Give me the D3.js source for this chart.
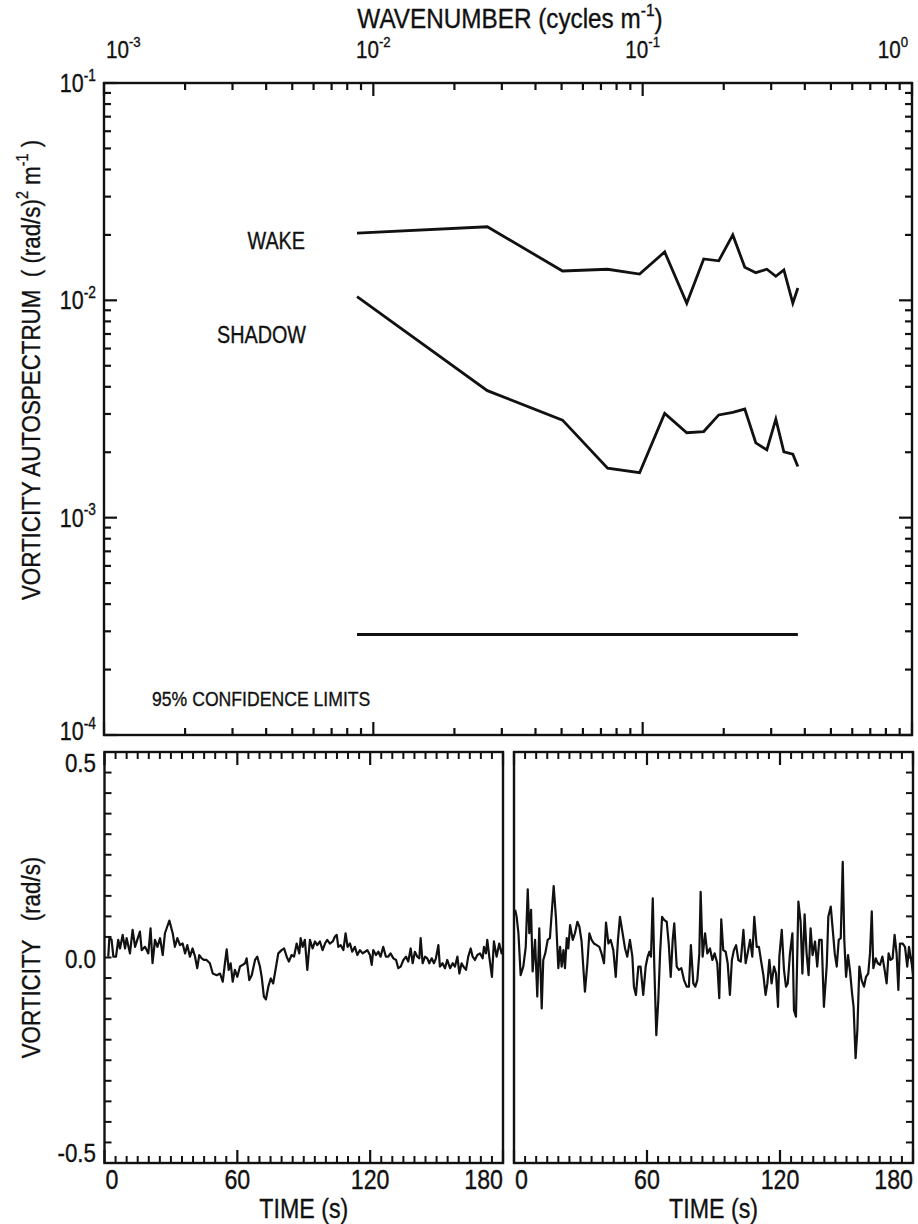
<!DOCTYPE html>
<html>
<head>
<meta charset="utf-8">
<script src="https://cdn.jsdelivr.net/npm/d3@7"></script>
<style>
  body { margin: 0; background: #fff; }
  svg { display: block; }
  text { font-family: "Liberation Sans", Arial, Helvetica, sans-serif; fill: #111;
         stroke: #111; stroke-width: 0.35; white-space: pre; }
</style>
</head>
<body>
<svg id="fig" width="918" height="1224"></svg>
<script>
// ---- Spectra (wavenumber in cycles/m, autospectrum in (rad/s)^2 m) ----
const wavenumber = [0.0087, 0.0265, 0.0504, 0.0741, 0.0974, 0.1207, 0.1458, 0.1685, 0.1916,
                    0.2161, 0.2394, 0.2631, 0.2891, 0.3122, 0.3344, 0.3610, 0.3769];
const wakeSpectrum = [0.0204, 0.0218, 0.01365, 0.0139, 0.0132, 0.0167, 0.0097, 0.0155, 0.0152,
                      0.0200, 0.0142, 0.0134, 0.0139, 0.0129, 0.0138, 0.0097, 0.0114];
const shadowSpectrum = [0.0104, 0.00384, 0.00281, 0.00169, 0.00161, 0.00302, 0.00246, 0.00249, 0.00297,
                        0.00305, 0.00316, 0.00221, 0.00205, 0.00284, 0.00201, 0.00196, 0.00172];
const confidenceLevel = 2.9e-4;

const wavenumberTicks = [1e-3, 1e-2, 1e-1, 1];
const wavenumberTickExp = ["-3", "-2", "-1", "0"];
const spectrumTicks = [1e-1, 1e-2, 1e-3, 1e-4];
const spectrumTickExp = ["-1", "-2", "-3", "-4"];

// ---- Vorticity records: [time (s), vorticity (rad/s)] ----
const leftRecord = [
  [1.7,0.002],[2.2,0.049],[3.2,0.043],[4.0,0.002],[5.2,0.002],[6.2,0.043],[7.0,0.022],[8.2,0.055],[9.3,0.022],[10.0,0.047],
  [11.5,0.010],[12.7,0.067],[13.8,0.026],[14.8,0.043],[16.0,0.063],[16.8,0.018],[18.3,0.026],[19.8,0.010],[20.8,0.071],[21.7,-0.014],
  [22.8,0.043],[23.9,0.026],[25.1,0.047],[26.3,0.006],[27.3,0.059],[29.3,0.090],[30.8,0.059],[31.8,0.026],[32.9,0.047],[34.1,0.030],
  [35.3,0.034],[36.4,0.010],[37.4,0.030],[38.6,0.002],[39.8,0.022],[40.9,0.002],[41.9,-0.026],[42.8,0.006],[43.9,-0.002],[44.9,-0.006],
  [46.1,-0.006],[47.6,-0.014],[48.9,-0.039],[50.7,-0.043],[52.2,-0.039],[53.4,-0.059],[54.4,-0.014],[55.2,0.020],[56.1,-0.030],[57.0,-0.014],
  [57.9,-0.059],[58.9,-0.030],[60.0,-0.047],[61.2,-0.022],[62.4,-0.018],[63.5,-0.014],[64.2,-0.002],[65.4,-0.055],[66.5,-0.043],[68.0,-0.006],
  [69.0,0.002],[70.2,-0.022],[71.0,-0.047],[72.0,-0.095],[72.9,-0.102],[74.0,-0.071],[75.1,-0.051],[76.2,-0.063],[77.5,-0.022],[78.5,0.010],
  [80.0,0.018],[81.1,0.022],[82.3,0.002],[83.3,-0.010],[84.5,0.006],[85.6,0.002],[86.8,0.034],[88.0,0.010],[88.6,0.047],[89.5,0.026],
  [90.5,0.043],[91.6,-0.030],[92.8,0.043],[94.0,0.022],[95.1,0.039],[96.1,0.030],[97.3,0.039],[98.5,0.018],[99.6,0.034],[100.6,0.043],
  [101.8,0.034],[103.1,0.039],[104.1,0.051],[104.9,0.055],[105.6,0.026],[106.7,0.030],[107.9,0.018],[108.9,0.059],[109.8,0.026],[110.9,0.034],
  [111.9,0.014],[113.1,0.026],[114.2,0.006],[115.4,0.018],[116.6,0.010],[117.7,0.014],[118.7,0.018],[119.9,0.006],[120.7,-0.018],[121.4,0.018],
  [122.6,0.006],[123.7,0.014],[124.7,0.002],[125.9,0.026],[127.1,0.002],[128.2,0.002],[129.2,0.010],[130.5,-0.002],[131.7,-0.006],[132.7,-0.026],
  [133.8,-0.022],[135.0,-0.006],[136.2,0.002],[137.2,-0.010],[138.3,0.022],[139.2,-0.014],[140.2,0.014],[141.3,0.002],[142.2,-0.002],[142.8,0.047],
  [143.7,-0.014],[144.8,0.002],[145.8,-0.002],[146.7,-0.014],[147.8,-0.002],[148.8,-0.014],[149.7,-0.002],[150.8,0.030],[151.5,-0.022],[152.7,-0.014],
  [153.8,-0.026],[154.8,-0.006],[156.1,-0.026],[157.3,-0.014],[158.3,-0.022],[159.4,0.002],[160.3,-0.039],[161.3,-0.014],[162.1,-0.022],[163.3,-0.030],
  [164.3,0.002],[165.4,0.022],[166.3,0.002],[167.3,-0.006],[168.4,0.006],[169.6,0.010],[170.8,-0.002],[171.4,0.026],[172.3,0.010],[172.9,0.043],
  [173.8,0.002],[175.0,-0.047],[175.9,0.039],[177.1,0.002],[178.3,0.034],[179.4,0.010],[180.0,0.022]
];
const rightRecord = [
  [0.5,0.116],[1.2,0.099],[2.0,0.059],[3.0,-0.043],[4.2,-0.022],[5.3,0.026],[6.2,0.166],[6.9,0.059],[7.7,0.116],[8.4,-0.034],
  [9.5,0.043],[10.5,-0.095],[11.4,0.071],[12.5,-0.124],[13.2,-0.006],[14.1,0.010],[15.2,0.043],[16.2,0.047],[17.0,0.107],[17.9,0.174],
  [18.9,0.099],[20.0,-0.026],[20.8,0.026],[21.5,-0.022],[22.3,0.018],[23.0,-0.026],[23.8,0.047],[24.5,0.022],[25.3,0.079],[26.5,0.043],
  [27.5,0.059],[28.6,0.087],[29.5,0.075],[30.5,0.039],[32.0,-0.083],[33.1,-0.014],[34.0,0.059],[35.0,0.043],[36.1,0.034],[37.3,0.030],
  [38.5,0.026],[39.5,0.010],[40.6,-0.014],[41.5,0.085],[42.6,0.034],[43.6,0.043],[44.8,0.018],[45.9,-0.047],[46.9,0.043],[47.8,0.099],
  [49.0,0.059],[50.1,0.022],[51.1,0.002],[52.3,0.043],[53.4,0.002],[54.1,-0.071],[55.0,-0.091],[56.1,-0.022],[57.1,-0.022],[58.3,-0.091],
  [59.4,-0.022],[60.3,0.002],[61.1,0.014],[61.8,0.002],[62.6,0.144],[63.3,-0.022],[64.2,-0.189],[65.1,-0.103],[65.9,0.010],[66.8,0.099],
  [67.8,0.091],[68.9,0.087],[69.8,0.034],[70.7,-0.047],[71.6,0.043],[72.3,0.083],[73.4,-0.022],[74.4,-0.030],[75.5,-0.026],[76.7,-0.055],
  [77.9,-0.071],[78.9,-0.071],[79.8,0.030],[80.9,-0.063],[81.8,-0.071],[82.7,-0.055],[83.6,0.010],[84.2,0.160],[85.1,0.002],[86.2,0.059],
  [87.2,0.010],[88.4,0.022],[89.5,-0.006],[90.5,0.010],[91.7,-0.014],[92.6,-0.099],[93.5,0.093],[94.4,0.018],[95.5,0.014],[96.4,-0.014],
  [97.4,-0.091],[98.3,-0.006],[99.2,0.018],[100.2,0.030],[101.2,-0.006],[102.3,-0.010],[103.5,0.067],[104.5,-0.014],[105.4,0.010],[106.5,0.043],
  [107.5,0.002],[108.4,0.099],[109.5,0.026],[110.5,0.026],[111.4,-0.006],[112.5,-0.043],[113.5,-0.091],[114.3,-0.063],[115.2,-0.006],[116.2,-0.063],
  [117.3,-0.022],[118.2,-0.039],[119.1,-0.120],[119.7,0.002],[120.8,0.067],[121.8,-0.030],[122.7,-0.071],[123.5,-0.063],[124.5,0.010],[125.6,0.059],
  [126.3,-0.128],[127.2,-0.144],[128.3,0.136],[129.3,0.087],[130.1,-0.039],[131.1,0.105],[132.0,0.010],[132.9,-0.043],[133.8,0.071],[134.7,0.006],
  [135.8,0.039],[136.8,-0.022],[137.7,0.043],[138.8,0.043],[139.8,-0.120],[141.1,-0.018],[141.8,0.099],[142.9,0.124],[143.8,0.067],[144.7,0.010],
  [145.6,-0.022],[146.5,0.043],[147.4,0.047],[148.3,0.233],[149.0,0.043],[149.8,-0.047],[150.7,0.006],[151.6,-0.034],[152.5,-0.087],[153.2,-0.120],
  [154.1,-0.245],[154.9,-0.176],[155.8,-0.022],[156.8,-0.055],[157.9,-0.071],[158.8,-0.047],[159.8,-0.039],[160.6,0.010],[161.4,0.112],[162.1,-0.026],
  [163.2,-0.002],[164.1,-0.014],[165.1,-0.018],[166.2,0.002],[167.2,-0.030],[168.1,-0.063],[169.0,0.010],[169.9,-0.006],[170.8,-0.002],[171.7,0.055],
  [172.6,0.010],[173.4,-0.079],[174.1,0.034],[175.3,0.034],[176.4,0.026],[177.4,-0.022],[178.2,0.026],[179.4,-0.014],[180.5,-0.063]
];
const timeTicks = [0, 60, 120, 180];
const vorticityTicks = [0.5, 0, -0.5];
const vorticityTickLabels = ["0.5", "0.0", "-0.5"];

// ---- Layout ----
const svg = d3.select("#fig");
const INK = "#111";
const SX = 0.86;                 // horizontal compression for the narrow lettering
const specBox = { l: 104, r: 912, t: 83, b: 735 };
const recordBox = { t: 752, b: 1163 };
const panels = [
  { l: 104.5, r: 503, data: leftRecord, yTicks: "left" },
  { l: 514, r: 913, data: rightRecord, yTicks: "right" }
];

// Text with optional superscripts; parts = ["text", {sup: "-1"}, ...]
function label(x, y, parts, opts = {}) {
  const size = opts.size || 22;
  const g = svg.append("g")
    .attr("transform", `translate(${x},${y}) rotate(${opts.rotate || 0}) scale(${opts.sx || SX},1)`);
  const t = g.append("text").attr("text-anchor", opts.anchor || "start").attr("font-size", size);
  let shift = 0;
  parts.forEach(p => {
    if (typeof p === "string") {
      t.append("tspan").attr("dy", -shift).attr("font-size", size).text(p);
      shift = 0;
    } else {
      const up = size * 0.45;
      t.append("tspan").attr("dy", -up - shift).attr("font-size", size * 0.64).text(p.sup);
      shift = -up;
    }
  });
  return t;
}

// Inward-pointing tick marks along one edge of a frame.
// side: "top" | "bottom" (ticks along x), "left" | "right" (ticks along y)
function edgeTicks(scale, values, side, pos, len, width) {
  const horizontal = side === "top" || side === "bottom";
  const dir = (side === "top" || side === "left") ? 1 : -1;
  svg.append("g").selectAll("line").data(values).join("line")
    .attr("x1", d => horizontal ? scale(d) : pos)
    .attr("x2", d => horizontal ? scale(d) : pos + dir * len)
    .attr("y1", d => horizontal ? pos : scale(d))
    .attr("y2", d => horizontal ? pos + dir * len : scale(d))
    .attr("stroke", INK).attr("stroke-width", width || 2.2);
}

const isDecade = d => Math.abs(Math.log10(d) - Math.round(Math.log10(d))) < 1e-9;

// ================= Spectrum panel =================
const x = d3.scaleLog().domain([1e-3, 1]).range([specBox.l, specBox.r]);
const y = d3.scaleLog().domain([1e-4, 1e-1]).range([specBox.b, specBox.t]);

const xMinor = x.ticks().filter(d => !isDecade(d));
const yMinor = y.ticks().filter(d => !isDecade(d));

[["top", specBox.t], ["bottom", specBox.b]].forEach(([side, pos]) => {
  edgeTicks(x, xMinor, side, pos, 7);
  edgeTicks(x, wavenumberTicks, side, pos, 13);
});
[["left", specBox.l], ["right", specBox.r]].forEach(([side, pos]) => {
  edgeTicks(y, yMinor, side, pos, 7);
  edgeTicks(y, spectrumTicks, side, pos, 13);
});

svg.append("rect")
  .attr("x", specBox.l).attr("y", specBox.t)
  .attr("width", specBox.r - specBox.l).attr("height", specBox.b - specBox.t)
  .attr("fill", "none").attr("stroke", INK).attr("stroke-width", 2.4);

const specLine = d3.line().x(d => x(d[0])).y(d => y(d[1]));
[wakeSpectrum, shadowSpectrum].forEach(s => {
  svg.append("path")
    .datum(wavenumber.map((k, i) => [k, s[i]]))
    .attr("d", specLine)
    .attr("fill", "none").attr("stroke", INK).attr("stroke-width", 2.8)
    .attr("stroke-linejoin", "miter");
});
svg.append("path")
  .datum([[wavenumber[0], confidenceLevel], [wavenumber[wavenumber.length - 1], confidenceLevel]])
  .attr("d", specLine)
  .attr("fill", "none").attr("stroke", INK).attr("stroke-width", 2.8);

// Spectrum panel text
wavenumberTicks.forEach((d, i) => {
  const anchor = i === 0 ? "start" : (i === wavenumberTicks.length - 1 ? "end" : "middle");
  const xx = i === 0 ? x(d) + 2 : (i === wavenumberTicks.length - 1 ? x(d) - 4 : x(d));
  label(xx, 58, ["10", { sup: wavenumberTickExp[i] }], { anchor, size: 24 });
});
spectrumTicks.forEach((d, i) => {
  const yy = i === spectrumTicks.length - 1 ? y(d) + 5 : y(d) + 9;
  label(96, yy, ["10", { sup: spectrumTickExp[i] }], { anchor: "end", size: 25 });
});
label((specBox.l + specBox.r) / 2 + 2, 28, ["WAVENUMBER (cycles m", { sup: "-1" }, ")"], { anchor: "middle", size: 27, sx: 0.9 });
label(40, 370, ["VORTICITY AUTOSPECTRUM  ( (rad/s)", { sup: "2" }, " m", { sup: "-1" }, " )"],
      { anchor: "middle", size: 26, rotate: -90 });
label(305, 249, ["WAKE"], { anchor: "end", size: 23 });
label(306, 343, ["SHADOW"], { anchor: "end", size: 23 });
label(152, 706, ["95% CONFIDENCE LIMITS"], { size: 20.5 });

// ================= Vorticity records =================
const v = d3.scaleLinear().domain([-0.5, 0.5]).range([recordBox.b, recordBox.t]);
const vMinor = d3.range(-9, 10).map(i => i * 0.05);
const tMinor = d3.range(0, 37).map(i => i * 5).filter(d => d % 60 !== 0);

panels.forEach(p => {
  const t = d3.scaleLinear().domain([0, 180]).range([p.l, p.r]);

  [["top", recordBox.t], ["bottom", recordBox.b]].forEach(([side, pos]) => {
    edgeTicks(t, tMinor, side, pos, 7, 2);
    edgeTicks(t, timeTicks, side, pos, 13, 2.2);
  });
  if (p.yTicks === "left") edgeTicks(v, vMinor, "left", p.l, 7, 2);
  else edgeTicks(v, vMinor, "right", p.r, 7, 2);

  const clipId = "clip" + Math.round(p.l);
  svg.append("clipPath").attr("id", clipId).append("rect")
    .attr("x", p.l).attr("y", recordBox.t).attr("width", p.r - p.l).attr("height", recordBox.b - recordBox.t);

  svg.append("path")
    .datum(p.data)
    .attr("clip-path", `url(#${clipId})`)
    .attr("d", d3.line().x(d => t(d[0])).y(d => v(d[1])))
    .attr("fill", "none").attr("stroke", INK).attr("stroke-width", 2.2)
    .attr("stroke-linejoin", "round");

  svg.append("rect")
    .attr("x", p.l).attr("y", recordBox.t)
    .attr("width", p.r - p.l).attr("height", recordBox.b - recordBox.t)
    .attr("fill", "none").attr("stroke", INK).attr("stroke-width", 2.4);

  timeTicks.forEach((d, i) => {
    const anchor = i === 0 ? "start" : (i === timeTicks.length - 1 ? "end" : "middle");
    const xx = i === 0 ? t(d) + 1 : t(d);
    label(xx, 1189, [String(d)], { anchor, size: 27 });
  });
  label((p.l + p.r) / 2, 1218, ["TIME (s)"], { anchor: "middle", size: 27 });
});

// Vorticity axis labels (left panel only)
vorticityTicks.forEach((d, i) => {
  const yy = i === 0 ? v(d) + 20 : (i === vorticityTicks.length - 1 ? v(d) - 1 : v(d) + 10);
  label(96, yy, [vorticityTickLabels[i]], { anchor: "end", size: 26 });
});
label(40, (recordBox.t + recordBox.b) / 2, ["VORTICITY   (rad/s)"], { anchor: "middle", size: 26, rotate: -90 });
</script>
</body>
</html>
